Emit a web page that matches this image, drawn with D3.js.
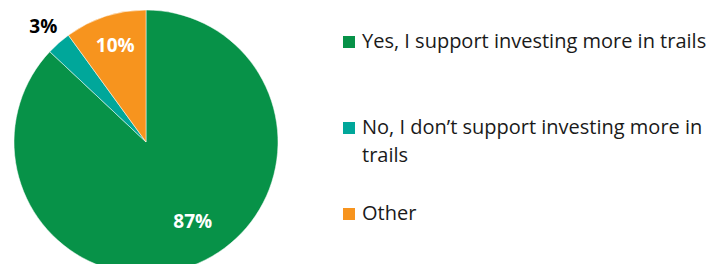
<!DOCTYPE html>
<html>
<head>
<meta charset="utf-8">
<script src="https://cdn.jsdelivr.net/npm/d3@7"></script>
<style>
  body { margin: 0; background: #fff; }
  svg { display: block; font-family: "Open Sans", "Liberation Sans", Arial, sans-serif; }
</style>
</head>
<body>
<div id="chart"></div>
<script>
let categories = ["Yes, I support investing more in trails", "No, I don\u2019t support investing more in trails", "Other"]
let values = [87, 3, 10]
let labels = ["87%", "3%", "10%"]
let colors = ["#079248", "#00A79A", "#F7941E"]

let width = 711
let height = 264
let radius = 132
let cx = 146, cy = 142

// where each label sits, as a fraction of the radius, plus a small nudge
let labelRadius = [0.7, 1.2, 0.78]
let labelNudge = [[10, -5], [2, 3], [1, 1]]

let svg = d3.select("#chart").append("svg")
    .attr("width", width)
    .attr("height", height)

let pie = d3.pie().sort(null).value(d => d)
let arcs = pie(values)
let arc = d3.arc().innerRadius(0).outerRadius(radius)

let g = svg.append("g").attr("transform", `translate(${cx},${cy})`)

g.selectAll("path.slice")
    .data(arcs)
    .enter()
    .append("path")
    .attr("class", "slice")
    .attr("d", arc)
    .attr("fill", (d, i) => colors[i])
    .attr("stroke", "#fff")
    .attr("stroke-width", 0.5)

g.selectAll("text.lbl")
    .data(arcs)
    .enter()
    .append("text")
    .attr("class", "lbl")
    .attr("transform", (d, i) => {
        let r = radius * labelRadius[i]
        let p = d3.arc().innerRadius(r).outerRadius(r).centroid(d)
        return `translate(${p[0] + labelNudge[i][0]},${p[1] + labelNudge[i][1]})`
    })
    .attr("text-anchor", "middle")
    .attr("dy", "0.35em")
    .style("font-size", "19px")
    .style("font-weight", "bold")
    .style("fill", (d, i) => i === 1 ? "#000" : "#fff")
    .text((d, i) => labels[i])

// legend
let legendX = 343
let rows = [
    { lines: [categories[0]], y: 48 },
    { lines: ["No, I don\u2019t support investing more in", "trails"], y: 134 },
    { lines: [categories[2]], y: 220 }
]
let legend = svg.append("g").attr("class", "legend")
rows.forEach((r, i) => {
    legend.append("rect")
        .attr("x", legendX)
        .attr("y", r.y - 12)
        .attr("width", 12)
        .attr("height", 12)
        .attr("fill", colors[i])
    let t = legend.append("text")
        .attr("x", legendX + 19)
        .attr("y", r.y)
        .style("font-size", "20px")
        .style("fill", "#1a1a1a")
    r.lines.forEach((ln, j) => {
        t.append("tspan")
            .attr("x", legendX + 19)
            .attr("dy", j === 0 ? 0 : 28)
            .text(ln)
    })
})
</script>
</body>
</html>
